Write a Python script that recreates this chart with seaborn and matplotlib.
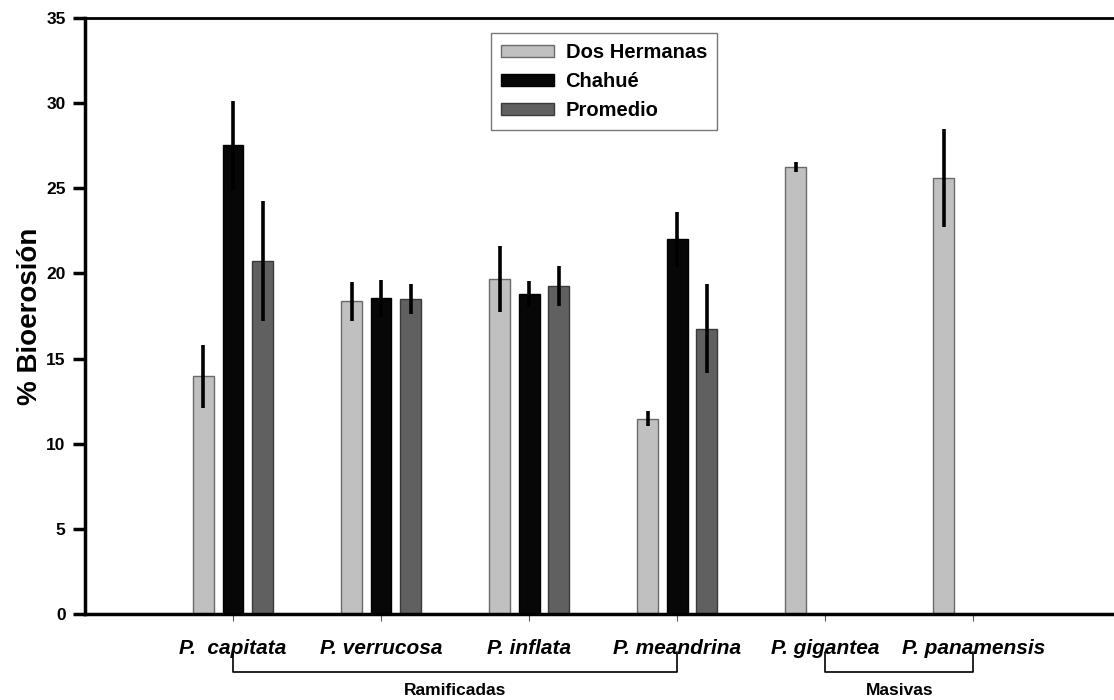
import numpy as np
import pandas as pd
import matplotlib
matplotlib.use("Agg")
import matplotlib.pyplot as plt
import seaborn as sns

species = ['P.  capitata', 'P. verrucosa', 'P. inflata', 'P. meandrina', 'P. gigantea', 'P. panamensis']
sites = ['Dos Hermanas', 'Chahué', 'Promedio']

dos_hermanas = [13.96, 18.36, 19.70, 11.47, 26.24, 25.60]
dos_hermanas_err = [1.85, 1.16, 1.94, 0.43, 0.30, 2.90]
chahue = [27.52, 18.53, 18.79, 22.00]
chahue_err = [2.60, 1.10, 0.79, 1.62]
promedio = [20.73, 18.51, 19.26, 16.75]
promedio_err = [3.55, 0.87, 1.16, 2.60]

groups = ['Ramificadas', 'Masivas']
group_span = [(0, 3), (4, 5)]

# tabla larga para seaborn
rows = []
for vals, errs, site in [(dos_hermanas, dos_hermanas_err, sites[0]),
                         (chahue, chahue_err, sites[1]),
                         (promedio, promedio_err, sites[2])]:
    for i, (v, e) in enumerate(zip(vals, errs)):
        rows.append({'especie': species[i], 'sitio': site, 'valor': v, 'err': e})
df = pd.DataFrame(rows)

sns.set_style('ticks')
plt.rcParams['font.family'] = ['Liberation Sans', 'DejaVu Sans']
plt.rcParams['font.weight'] = 'bold'
for k in ['text.color', 'axes.labelcolor', 'xtick.labelcolor', 'ytick.color', 'ytick.labelcolor']:
    plt.rcParams[k] = 'black'

colors = {'Dos Hermanas': '#c0c0c0', 'Chahué': '#070707', 'Promedio': '#606060'}
edges = {'Dos Hermanas': '#6a6a6a', 'Chahué': '#000000', 'Promedio': '#3a3a3a'}

fig = plt.figure(figsize=(11.14, 7.0), dpi=100)
ax = fig.add_axes([85 / 1114, 86 / 700, 1 - 85 / 1114, 596 / 700])

sns.barplot(data=df, x='especie', y='valor', hue='sitio', order=species,
            hue_order=sites, palette=colors, width=0.6, gap=0.3,
            errorbar=None, saturation=1, ax=ax, zorder=2)

# bordes y barras de error
for cont, site in zip(ax.containers, sites):
    sub = df[df['sitio'] == site].set_index('especie')
    for p in cont.patches:
        p.set_edgecolor(edges[site])
        p.set_linewidth(1.0)
        xc = p.get_x() + p.get_width() / 2
        idx = int(round(xc))
        e = sub.loc[species[idx], 'err']
        ax.errorbar(xc, p.get_height(), yerr=e, fmt='none', ecolor='black',
                    elinewidth=2.6, capsize=0, zorder=3)

ax.set_xlim(-1, 5.95)
ax.set_ylim(0, 35)
ax.set_yticks(np.arange(0, 36, 5))
ax.set_xlabel('')
ax.set_ylabel('% Bioerosión', fontsize=20, fontweight='bold', labelpad=2)

ax.spines['right'].set_visible(False)
ax.spines['left'].set_linewidth(2.5)
ax.spines['bottom'].set_linewidth(2.5)
ax.spines['top'].set_linewidth(2.0)
for s in ['left', 'bottom', 'top']:
    ax.spines[s].set_color('black')

ax.tick_params(axis='y', direction='out', length=9, width=2.5, labelsize=12.5, pad=5)
ax.tick_params(axis='x', direction='out', length=5, width=0.8, color='#555555',
               labelsize=15, pad=13)
for lab in ax.get_yticklabels():
    lab.set_fontweight('bold')
for lab in ax.get_xticklabels():
    lab.set_fontweight('bold')
    lab.set_fontstyle('italic')

# corchetes de grupos
trans = ax.get_xaxis_transform()
for name, (a, b) in zip(groups, group_span):
    ax.plot([a, a, b, b], [-0.064, -0.097, -0.097, -0.064], color='black',
            lw=1.2, transform=trans, clip_on=False)
    ax.text((a + b) / 2, -0.129, name, transform=trans, ha='center', va='center',
            fontsize=12.5, fontweight='bold')

leg = ax.legend(loc='upper left', bbox_to_anchor=(491 / 1114, 1 - 33 / 700),
                bbox_transform=fig.transFigure, title=None, fontsize=14.5,
                frameon=True, fancybox=False, handlelength=2.65, handleheight=0.5,
                handletextpad=0.55, labelspacing=0.5, borderpad=0.5,
                borderaxespad=0)
leg.get_frame().set_edgecolor('#555555')
leg.get_frame().set_linewidth(1.0)
for t in leg.get_texts():
    t.set_fontweight('bold')
for h, site in zip(leg.legend_handles, sites):
    h.set_edgecolor(edges[site])
    h.set_linewidth(1.0)

fig.savefig('out.png', dpi=100)
